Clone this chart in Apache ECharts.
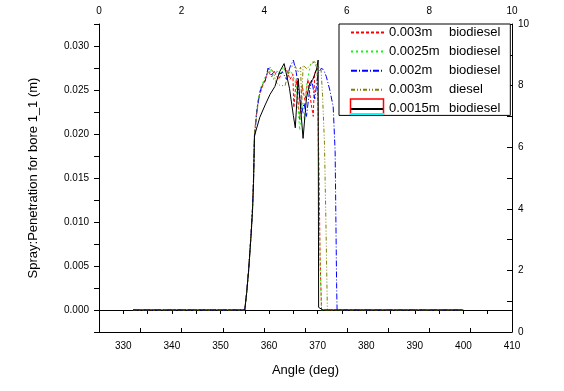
<!DOCTYPE html>
<html>
<head>
<meta charset="utf-8">
<script src="https://cdn.jsdelivr.net/npm/echarts@6/dist/echarts.min.js"></script>
<style>html,body{margin:0;padding:0;background:#fff}#c{width:564px;height:391px}</style>
</head>
<body>
<div id="c"></div>
<script>
// ---- data ----
const names = ['0.003m biodiesel', '0.0025m biodiesel', '0.002m biodiesel', '0.003m diesel', '0.0015m biodiesel'];

const angRed = [332, 355, 355.4, 355.8, 356.3, 356.6, 356.8, 357.0, 357.4, 357.8, 358.5, 359.2, 359.8, 360.5, 361.2, 362.0, 362.8, 363.5, 364.3, 364.9, 365.1, 365.6, 366.0, 366.3, 366.8, 367.4, 368.0, 368.7, 369.1, 369.4, 369.9, 370.1, 370.3, 370.5, 370.8, 400];
const penRed = [0, 0, 0.002, 0.0047, 0.0088, 0.0118, 0.015, 0.020, 0.0223, 0.024, 0.0252, 0.0262, 0.0272, 0.0265, 0.027, 0.0262, 0.0272, 0.0275, 0.0262, 0.0268, 0.0230, 0.0262, 0.0236, 0.0216, 0.0255, 0.0238, 0.0262, 0.0233, 0.0220, 0.0269, 0.0275, 0.0216, 0.0150, 0.006, 0, 0];

const angGreen = [332, 355, 355.4, 355.8, 356.3, 356.6, 356.8, 357.0, 357.5, 358.1, 358.7, 359.3, 360.2, 360.9, 361.6, 362.3, 363.0, 363.8, 364.5, 365.2, 365.6, 366.0, 366.3, 366.8, 367.3, 367.7, 368.2, 368.7, 369.4, 369.9, 370.1, 370.3, 370.5, 370.8, 400];
const penGreen = [0, 0, 0.0018, 0.0044, 0.0085, 0.0115, 0.0148, 0.0197, 0.0228, 0.0250, 0.0258, 0.0266, 0.0276, 0.0262, 0.0272, 0.0268, 0.0276, 0.0266, 0.0272, 0.0262, 0.0255, 0.0228, 0.0204, 0.0235, 0.0215, 0.0254, 0.0270, 0.0282, 0.0282, 0.0270, 0.019, 0.013, 0.005, 0, 0];

const angBlue = [332, 355, 355.4, 355.8, 356.3, 356.6, 356.8, 357.0, 357.5, 358.0, 358.5, 359.2, 359.8, 360.5, 361.2, 362.0, 362.8, 363.6, 364.3, 365.0, 365.6, 366.3, 366.7, 367.2, 367.7, 368.3, 368.8, 369.4, 370.1, 370.8, 371.3, 371.8, 372.5, 373.2, 373.6, 373.9, 374.0, 400];
const penBlue = [0, 0, 0.0021, 0.0046, 0.0087, 0.0116, 0.0147, 0.0196, 0.0226, 0.0244, 0.0255, 0.026, 0.0275, 0.0267, 0.0272, 0.0268, 0.0270, 0.0262, 0.0276, 0.0284, 0.0270, 0.0242, 0.0223, 0.0235, 0.0220, 0.0248, 0.0262, 0.0240, 0.0269, 0.0275, 0.0272, 0.0265, 0.025, 0.0231, 0.018, 0.003, 0, 0];

const angOlive = [332, 355, 355.4, 355.8, 356.3, 356.6, 356.8, 357.0, 357.5, 358.1, 358.8, 359.5, 360.2, 360.9, 361.5, 362.3, 363.3, 364.3, 365.3, 366.0, 366.5, 366.7, 367.0, 367.8, 368.7, 369.4, 370.0, 370.7, 371.0, 371.4, 371.7, 372.0, 400];
const penOlive = [0, 0, 0.0019, 0.0045, 0.0086, 0.0114, 0.0146, 0.0199, 0.0225, 0.0246, 0.0258, 0.0266, 0.0276, 0.0270, 0.0258, 0.0255, 0.0255, 0.0276, 0.0278, 0.0270, 0.0276, 0.0231, 0.0278, 0.0274, 0.0280, 0.0282, 0.0278, 0.0273, 0.0245, 0.019, 0.010, 0, 0];

const angBlack = [332, 355, 355.4, 355.8, 356.3, 356.6, 356.8, 357.0, 358.1, 359.2, 360.2, 361.2, 362.2, 363.1, 364.2, 365.0, 365.4, 366.0, 367.0, 367.7, 368.4, 369.0, 369.8, 370.1, 370.2, 371.1, 400];
const penBlack = [0, 0, 0.002, 0.0045, 0.0085, 0.0113, 0.0144, 0.0198, 0.0219, 0.0233, 0.0245, 0.0254, 0.0271, 0.0280, 0.0252, 0.0221, 0.0207, 0.0263, 0.0195, 0.0241, 0.0258, 0.0262, 0.0274, 0.0284, 0.0003, 0, 0];

// ---- chart ----
const FONT = 'Liberation Sans, Arial, sans-serif';
function pairs(a, b) { return a.map((x, i) => [x, b[i]]); }
const seriesDefs = [
  { name: names[0], ang: angRed, pen: penRed, color: '#ff0000', type: [3, 2] },
  { name: names[1], ang: angGreen, pen: penGreen, color: '#00ff00', type: [2, 3] },
  { name: names[2], ang: angBlue, pen: penBlue, color: '#0000ff', type: [6, 2, 1, 2] },
  { name: names[3], ang: angOlive, pen: penOlive, color: '#808000', type: [4, 2, 1, 2, 1, 2] },
  { name: names[4], ang: angBlack, pen: penBlack, color: '#000000', type: 'solid' }
];

const chart = echarts.init(document.getElementById('c'), null, { renderer: 'canvas' });
const axisLine = { show: true, lineStyle: { color: '#000', width: 1 } };
chart.setOption({
  animation: false,
  backgroundColor: '#fff',
  textStyle: { fontFamily: FONT },
  grid: { left: 99, right: 52, top: 24, bottom: 59, containLabel: false },
  xAxis: [
    {
      type: 'value', position: 'bottom', min: 325, max: 410, interval: 5,
      axisLine: axisLine, splitLine: { show: false },
      axisTick: { show: true, inside: false, length: 4, lineStyle: { color: '#000' } },
      axisLabel: { color: '#000', fontSize: 10, fontFamily: FONT, margin: 9,
        formatter: v => (Math.round(v) % 10 === 0 ? String(Math.round(v)) : '') },
      name: 'Angle (deg)', nameLocation: 'middle', nameGap: 32,
      nameTextStyle: { color: '#000', fontSize: 13, fontFamily: FONT }
    },
    {
      type: 'value', position: 'top', min: 0, max: 10, interval: 1,
      axisLine: axisLine, splitLine: { show: false },
      axisTick: { show: true, inside: false, length: 4, lineStyle: { color: '#000' } },
      axisLabel: { color: '#000', fontSize: 10, fontFamily: FONT, margin: 8,
        formatter: v => (Math.round(v) % 2 === 0 ? String(Math.round(v)) : '') }
    }
  ],
  yAxis: [
    {
      type: 'value', position: 'left', min: -0.0025, max: 0.0325, interval: 0.0025,
      axisLine: axisLine, splitLine: { show: false },
      axisTick: { show: true, inside: false, length: 5, lineStyle: { color: '#000' } },
      axisLabel: { color: '#000', fontSize: 10, fontFamily: FONT, margin: 10,
        formatter: v => { const k = v / 0.005; return Math.abs(k - Math.round(k)) < 1e-6 ? (Math.abs(v) < 1e-9 ? 0 : v).toFixed(3) : ''; } },
      name: 'Spray:Penetration for bore 1_1 (m)', nameLocation: 'middle', nameGap: 59,
      nameTextStyle: { color: '#000', fontSize: 13, fontFamily: FONT }
    },
    {
      type: 'value', position: 'right', min: 0, max: 10, interval: 1,
      axisLine: axisLine, splitLine: { show: false },
      axisTick: { show: true, inside: true, length: 5, lineStyle: { color: '#000' } },
      axisLabel: { color: '#000', fontSize: 10, fontFamily: FONT, margin: 6,
        formatter: v => (Math.round(v) % 2 === 0 ? String(Math.round(v)) : '') }
    }
  ],
  legend: {
    orient: 'vertical', left: 339, top: 24,
    padding: [2, 10, 0, 11],
    itemGap: 6.1, itemWidth: 33, itemHeight: 14,
    backgroundColor: '#fff', borderColor: '#000', borderWidth: 1, borderRadius: 0,
    itemStyle: { opacity: 0 },
    data: names,
    formatter: n => { const p = n.split(' '); return '{a|' + p[0] + '}{b|' + p[1] + '}'; },
    textStyle: {
      color: '#000', fontSize: 13, fontFamily: FONT,
      rich: {
        a: { width: 60, fontSize: 13, fontFamily: FONT, color: '#000', lineHeight: 14 },
        b: { fontSize: 13, fontFamily: FONT, color: '#000', lineHeight: 14 }
      }
    }
  },
  graphic: [
    { type: 'rect', z: 100, shape: { x: 350.5, y: 99, width: 33, height: 15 },
      style: { fill: null, stroke: '#ff0000', lineWidth: 1.5 } },
    { type: 'line', z: 101, shape: { x1: 350, y1: 114, x2: 384, y2: 114 },
      style: { stroke: '#00ffff', lineWidth: 2 } }
  ],
  series: seriesDefs.map(s => ({
    name: s.name, type: 'line', xAxisIndex: 0, yAxisIndex: 0,
    data: pairs(s.ang, s.pen), showSymbol: false, symbol: 'none',
    lineStyle: { color: s.color, width: 1, type: s.type },
    itemStyle: { color: s.color }
  }))
});
</script>
</body>
</html>
